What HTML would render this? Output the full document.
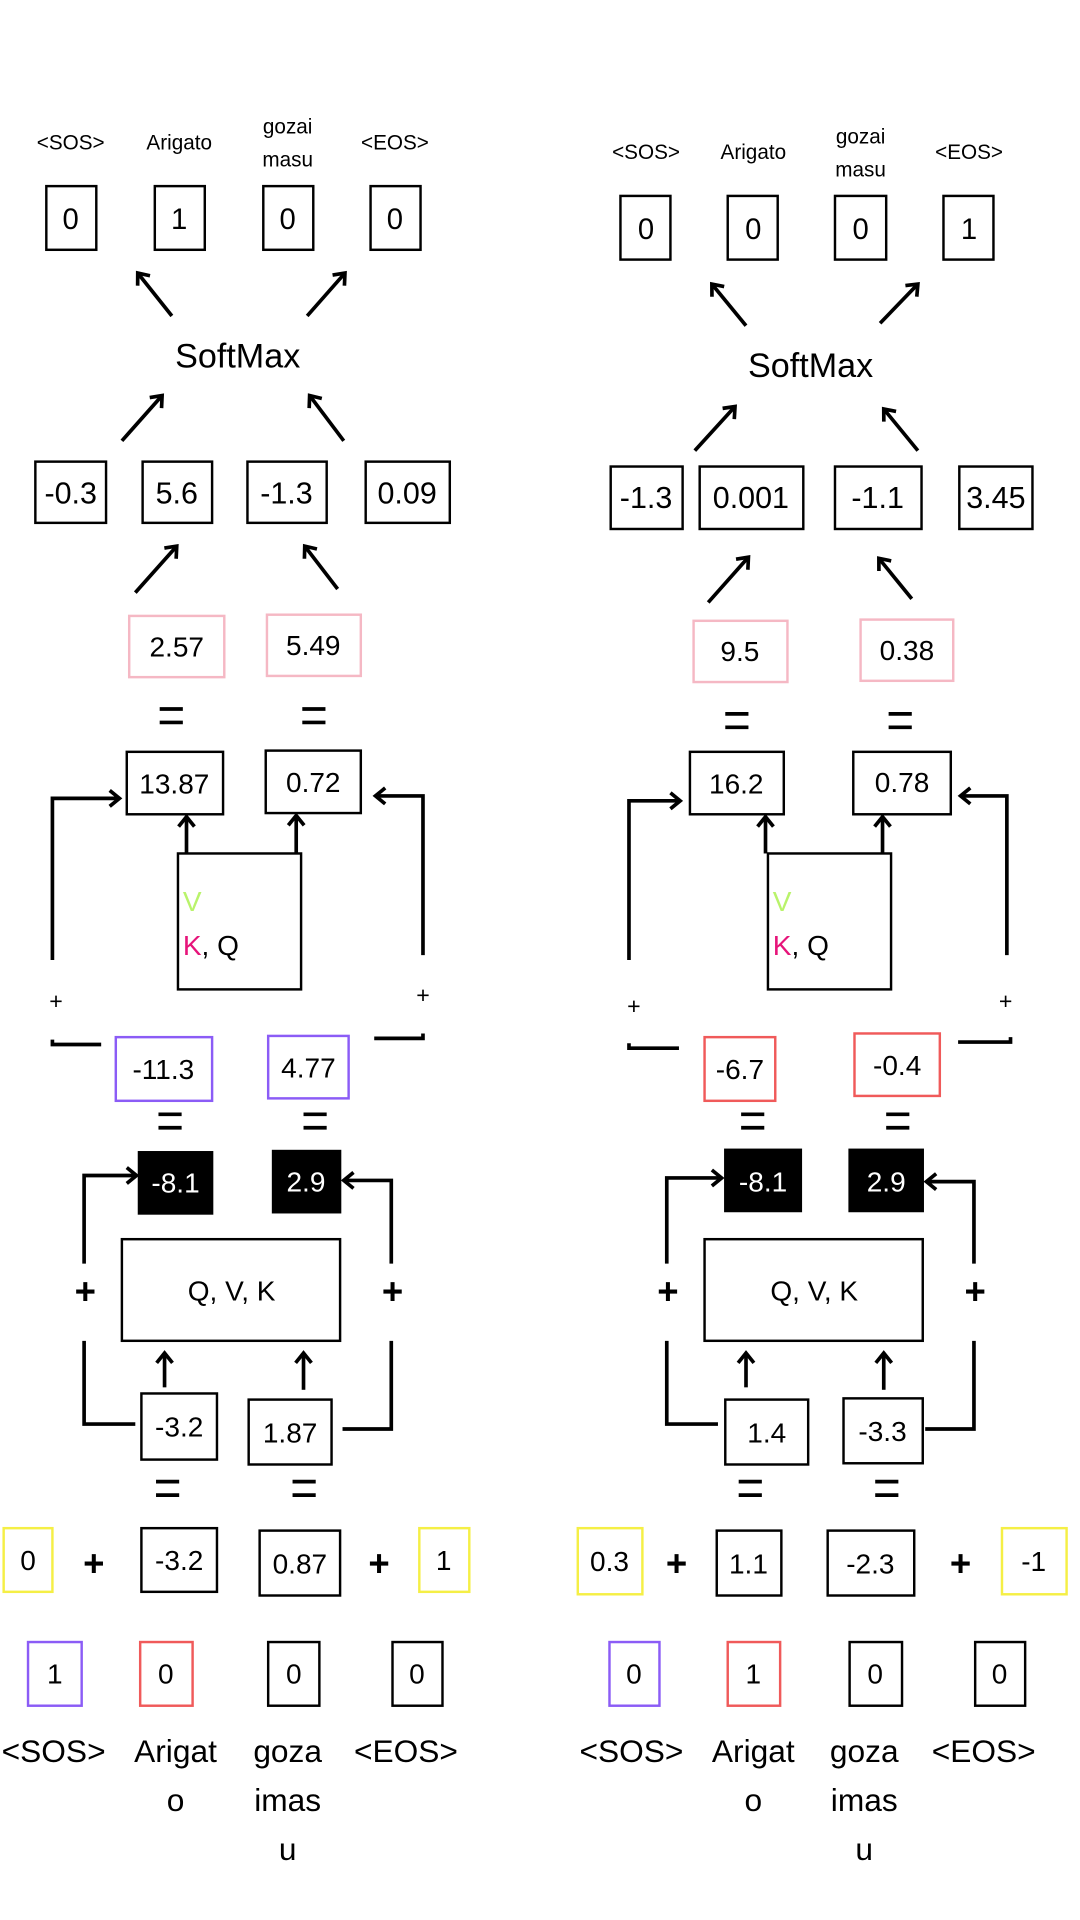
<!DOCTYPE html>
<html><head><meta charset="utf-8"><style>
html,body{margin:0;padding:0;background:#fff;}
svg{display:block}
text{font-family:"Liberation Sans",sans-serif;fill:#000;}
</style></head><body>
<svg width="1080" height="1920" viewBox="0 0 886 1568" preserveAspectRatio="none" xmlns="http://www.w3.org/2000/svg">
<defs>
<marker id="a" markerUnits="userSpaceOnUse" markerWidth="16" markerHeight="16" refX="11" refY="8" orient="auto">
<path d="M3,1.5 L11,8 L3,14.5" fill="none" stroke="#000" stroke-width="3"/>
</marker>
</defs>
<rect width="886" height="1568" fill="#fff"/>
<g fill="none" stroke="#000" stroke-width="2">
<!-- LEFT top boxes -->
<rect x="38" y="152" width="41" height="52"/><rect x="127" y="152" width="41" height="52"/><rect x="216" y="152" width="41" height="52"/><rect x="304" y="152" width="41" height="52"/>
<rect x="29" y="377" width="58" height="50"/><rect x="117" y="377" width="57" height="50"/><rect x="203" y="377" width="65" height="50"/><rect x="300" y="377" width="69" height="50"/>
<rect x="106" y="503" width="78" height="50" stroke="#f5b8c4"/><rect x="219" y="502" width="77" height="50" stroke="#f5b8c4"/>
<rect x="104" y="614" width="79" height="51"/><rect x="218" y="613" width="78" height="51"/>
<rect x="146" y="697" width="101" height="111"/>
<rect x="95" y="847" width="79" height="52" stroke="#8b5cf6"/><rect x="220" y="846" width="66" height="51" stroke="#8b5cf6"/>
<rect x="100" y="1012" width="179" height="83"/>
<rect x="116" y="1138" width="62" height="54"/><rect x="204" y="1143" width="68" height="53"/>
<rect x="3" y="1248" width="40" height="52" stroke="#f5ef45"/><rect x="116" y="1248" width="62" height="52"/><rect x="213" y="1250" width="66" height="53"/><rect x="344" y="1248" width="41" height="52" stroke="#f5ef45"/>
<rect x="23" y="1341" width="44" height="52" stroke="#8b5cf6"/><rect x="115" y="1341" width="43" height="52" stroke="#f05a5a"/><rect x="220" y="1341" width="42" height="52"/><rect x="322" y="1341" width="41" height="52"/>
<!-- RIGHT -->
<rect x="509" y="160" width="41" height="52"/><rect x="597" y="160" width="41" height="52"/><rect x="685" y="160" width="42" height="52"/><rect x="774" y="160" width="41" height="52"/>
<rect x="501" y="381" width="59" height="51"/><rect x="574" y="381" width="85" height="51"/><rect x="685" y="381" width="71" height="51"/><rect x="787" y="381" width="60" height="51"/>
<rect x="569" y="507" width="77" height="50" stroke="#f5b8c4"/><rect x="706" y="506" width="76" height="50" stroke="#f5b8c4"/>
<rect x="566" y="614" width="77" height="51"/><rect x="700" y="614" width="80" height="51"/>
<rect x="630" y="697" width="101" height="111"/>
<rect x="578" y="847" width="58" height="52" stroke="#f05a5a"/><rect x="701" y="844" width="70" height="51" stroke="#f05a5a"/>
<rect x="578" y="1012" width="179" height="83"/>
<rect x="595" y="1143" width="68" height="53"/><rect x="692" y="1142" width="65" height="53"/>
<rect x="474" y="1248" width="53" height="54" stroke="#f5ef45"/><rect x="588" y="1250" width="53" height="53"/><rect x="679" y="1250" width="71" height="53"/><rect x="822" y="1248" width="53" height="54" stroke="#f5ef45"/>
<rect x="500" y="1341" width="41" height="52" stroke="#8b5cf6"/><rect x="597" y="1341" width="43" height="52" stroke="#f05a5a"/><rect x="697" y="1341" width="43" height="52"/><rect x="800" y="1341" width="41" height="52"/>
</g>
<rect x="113" y="940" width="62" height="52" fill="#000"/><rect x="223" y="939" width="57" height="52" fill="#000"/>
<rect x="594" y="938" width="64" height="52" fill="#000"/><rect x="696" y="938" width="62" height="52" fill="#000"/>
<g fill="none" stroke="#000" stroke-width="3" marker-end="url(#a)">
<line x1="141" y1="258" x2="113" y2="223"/><line x1="252" y1="258" x2="283" y2="223"/>
<line x1="100" y1="360" x2="133" y2="323"/><line x1="282" y1="360" x2="254" y2="323"/>
<line x1="111" y1="484" x2="145" y2="446"/><line x1="277" y1="481" x2="250" y2="446"/>
<line x1="153" y1="697" x2="153" y2="667"/><line x1="243" y1="697" x2="243" y2="666"/>
<polyline points="43,784 43,652 98,652"/><polyline points="347,780 347,650 308,650"/>
<polyline points="69,1032 69,960 112,960"/><polyline points="321,1032 321,964 282,964"/>
<line x1="135" y1="1133" x2="135" y2="1105"/><line x1="249" y1="1135" x2="249" y2="1105"/>
<line x1="612" y1="266" x2="584" y2="232"/><line x1="722" y1="264" x2="753" y2="232"/>
<line x1="570" y1="368" x2="603" y2="332"/><line x1="753" y1="368" x2="725" y2="334"/>
<line x1="581" y1="492" x2="614" y2="455"/><line x1="748" y1="489" x2="721" y2="456"/>
<line x1="628" y1="697" x2="628" y2="667"/><line x1="724" y1="697" x2="724" y2="667"/>
<polyline points="516,784 516,654 558,654"/><polyline points="826,780 826,650 788,650"/>
<polyline points="547,1032 547,962 592,962"/><polyline points="799,1032 799,965 760,965"/>
<line x1="612" y1="1133" x2="612" y2="1105"/><line x1="725" y1="1135" x2="725" y2="1105"/>
</g>
<g fill="none" stroke="#000" stroke-width="3">
<polyline points="43,849 43,853 83,853"/><polyline points="307,848 347,848 347,844"/>
<polyline points="69,1095 69,1163 111,1163"/><polyline points="321,1095 321,1167 281,1167"/>
<polyline points="516,852 516,856 557,856"/><polyline points="786,851 829,851 829,847"/>
<polyline points="547,1095 547,1163 589,1163"/><polyline points="799,1095 799,1167 759,1167"/>
<g stroke-width="3">
<line x1="131" y1="579" x2="150" y2="579"/><line x1="131" y1="590" x2="150" y2="590"/>
<line x1="248" y1="579" x2="267" y2="579"/><line x1="248" y1="590" x2="267" y2="590"/>
<line x1="130" y1="910" x2="149" y2="910"/><line x1="130" y1="921" x2="149" y2="921"/>
<line x1="249" y1="910" x2="268" y2="910"/><line x1="249" y1="921" x2="268" y2="921"/>
<line x1="128" y1="1210" x2="147" y2="1210"/><line x1="128" y1="1221" x2="147" y2="1221"/>
<line x1="240" y1="1210" x2="259" y2="1210"/><line x1="240" y1="1221" x2="259" y2="1221"/>
<line x1="595" y1="583" x2="614" y2="583"/><line x1="595" y1="594" x2="614" y2="594"/>
<line x1="729" y1="583" x2="748" y2="583"/><line x1="729" y1="594" x2="748" y2="594"/>
<line x1="608" y1="910" x2="627" y2="910"/><line x1="608" y1="921" x2="627" y2="921"/>
<line x1="727" y1="910" x2="746" y2="910"/><line x1="727" y1="921" x2="746" y2="921"/>
<line x1="606" y1="1210" x2="625" y2="1210"/><line x1="606" y1="1221" x2="625" y2="1221"/>
<line x1="718" y1="1210" x2="737" y2="1210"/><line x1="718" y1="1221" x2="737" y2="1221"/>
</g>
</g>
<g text-anchor="middle" font-size="17">
<text x="58" y="122">&lt;SOS&gt;</text><text x="147" y="122">Arigato</text><text x="236" y="109">gozai</text><text x="236" y="136">masu</text><text x="324" y="122">&lt;EOS&gt;</text>
<text x="530" y="130">&lt;SOS&gt;</text><text x="618" y="130">Arigato</text><text x="706" y="117">gozai</text><text x="706" y="144">masu</text><text x="795" y="130">&lt;EOS&gt;</text>
</g>
<g text-anchor="middle" font-size="24">
<text x="58" y="187">0</text><text x="147" y="187">1</text><text x="236" y="187">0</text><text x="324" y="187">0</text>
<text x="530" y="195">0</text><text x="618" y="195">0</text><text x="706" y="195">0</text><text x="795" y="195">1</text>
</g>
<g text-anchor="middle" font-size="28">
<text x="195" y="300">SoftMax</text><text x="665" y="308">SoftMax</text>
</g>
<g text-anchor="middle" font-size="25">
<text x="58" y="411">-0.3</text><text x="145" y="411">5.6</text><text x="235" y="411">-1.3</text><text x="334" y="411">0.09</text>
<text x="530" y="415">-1.3</text><text x="616" y="415">0.001</text><text x="720" y="415">-1.1</text><text x="817" y="415">3.45</text>
</g>
<g text-anchor="middle" font-size="23">
<text x="145" y="536">2.57</text><text x="257" y="535">5.49</text>
<text x="607" y="540">9.5</text><text x="744" y="539">0.38</text>
<text x="143" y="648">13.87</text><text x="257" y="647">0.72</text>
<text x="604" y="648">16.2</text><text x="740" y="647">0.78</text>
<text x="134" y="881">-11.3</text><text x="253" y="880">4.77</text>
<text x="607" y="881">-6.7</text><text x="736" y="878">-0.4</text>
<text x="144" y="974" fill="#fff" style="fill:#fff">-8.1</text><text x="251" y="973" style="fill:#fff">2.9</text>
<text x="626" y="973" style="fill:#fff">-8.1</text><text x="727" y="973" style="fill:#fff">2.9</text>
<text x="190" y="1062">Q, V, K</text><text x="668" y="1062">Q, V, K</text>
<text x="147" y="1173">-3.2</text><text x="238" y="1178">1.87</text>
<text x="629" y="1178">1.4</text><text x="724" y="1177">-3.3</text>
<text x="23" y="1282">0</text><text x="147" y="1282">-3.2</text><text x="246" y="1285">0.87</text><text x="364" y="1282">1</text>
<text x="500" y="1283">0.3</text><text x="614" y="1285">1.1</text><text x="714" y="1285">-2.3</text><text x="848" y="1283">-1</text>
<text x="45" y="1375">1</text><text x="136" y="1375">0</text><text x="241" y="1375">0</text><text x="342" y="1375">0</text>
<text x="520" y="1375">0</text><text x="618" y="1375">1</text><text x="718" y="1375">0</text><text x="820" y="1375">0</text>
</g>
<g font-size="23">
<text x="150" y="744" style="fill:#b9f36b">V</text><text x="150" y="780"><tspan style="fill:#e6147a">K</tspan>, Q</text>
<text x="634" y="744" style="fill:#b9f36b">V</text><text x="634" y="780"><tspan style="fill:#e6147a">K</tspan>, Q</text>
</g>
<g text-anchor="middle" font-size="19">
<text x="46" y="824">+</text><text x="347" y="819">+</text><text x="520" y="828">+</text><text x="825" y="824">+</text>
</g>
<g text-anchor="middle" font-size="30" font-weight="bold">
<text x="70" y="1065">+</text><text x="322" y="1065">+</text><text x="548" y="1065">+</text><text x="800" y="1065">+</text>
<text x="77" y="1287">+</text><text x="311" y="1287">+</text><text x="555" y="1287">+</text><text x="788" y="1287">+</text>
</g>
<g text-anchor="middle" font-size="26">
<text x="44" y="1439">&lt;SOS&gt;</text><text x="144" y="1439">Arigat</text><text x="144" y="1479">o</text>
<text x="236" y="1439">goza</text><text x="236" y="1479">imas</text><text x="236" y="1519">u</text><text x="333" y="1439">&lt;EOS&gt;</text>
<text x="518" y="1439">&lt;SOS&gt;</text><text x="618" y="1439">Arigat</text><text x="618" y="1479">o</text>
<text x="709" y="1439">goza</text><text x="709" y="1479">imas</text><text x="709" y="1519">u</text><text x="807" y="1439">&lt;EOS&gt;</text>
</g>
</svg>
</body></html>
